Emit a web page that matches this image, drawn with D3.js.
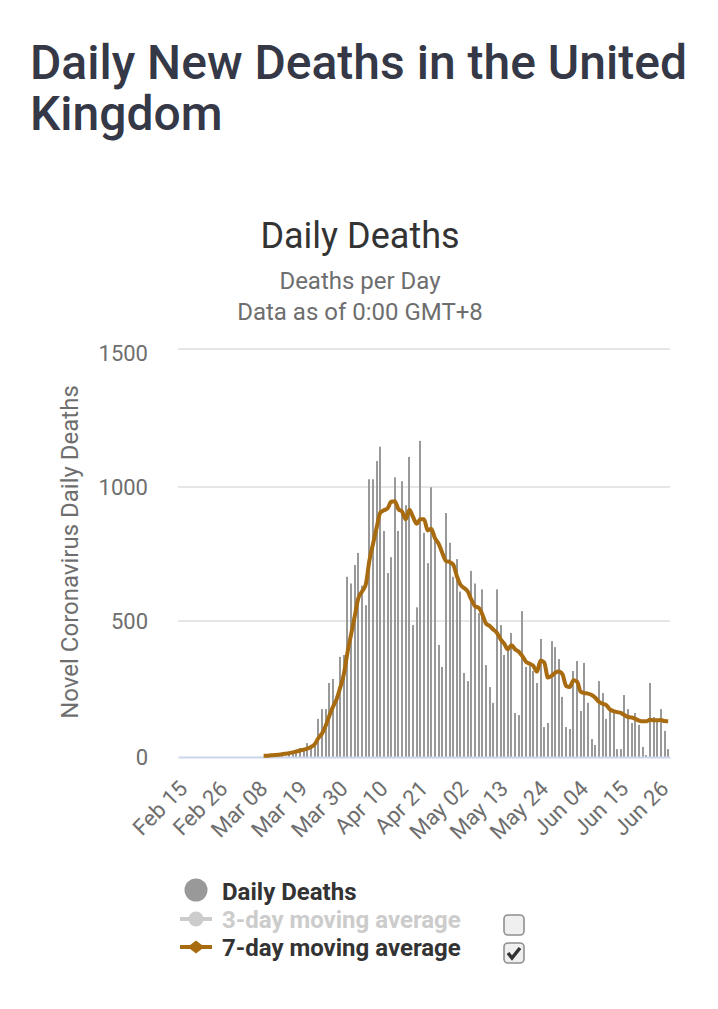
<!DOCTYPE html>
<html><head><meta charset="utf-8">
<script src="https://cdn.jsdelivr.net/npm/d3@7/dist/d3.min.js"></script>
<style>
html,body{margin:0;padding:0;background:#fff;}
svg{display:block;}
text{font-family:Roboto,sans-serif;}
</style></head><body>
<svg id="c" width="718" height="1009"></svg>
<script>
const firstDay = "2020-02-15";
const dayCount = 135;
const tickEvery = 11;
const yTicks = [0, 500, 1000, 1500];
const titleLines = ["Daily New Deaths in the United", "Kingdom"];
const chartTitle = "Daily Deaths";
const subtitleLines = ["Deaths per Day", "Data as of 0:00 GMT+8"];
const yLabel = "Novel Coronavirus Daily Deaths";
const legendNames = ["Daily Deaths", "3-day moving average", "7-day moving average"];
const dailyDeaths = [
 0,0,0,0,0,0,0,0,0,0,0,0,0,0,0,0,0,0,0,0,0,0,0,
 1,2,3,2,5,11,1,14,20,16,33,33,51,34,40,
 140,176,176,272,287,214,368,375,665,640,709,754,632,559,1028,1028,1094,1146,836,679,738,1035,836,1021,932,1109,485,551,1167,829,716,999,811,412,331,903,792,665,731,610,309,279,687,640,529,618,338,257,
 199,618,485,375,390,456,162,154,537,331,338,316,272,434,110,125,426,404,360,221,110,103,316,353,169,346,199,66,44,279,235,140,169,162,29,29,228,176,125,162,118,37,7,272,147,132,176,96,29];
const avg7 = [
 null,null,null,null,null,null,null,null,null,null,null,null,null,null,null,null,null,null,null,null,null,null,null,
 5,5,6,7,8,10,12,14,17,20,24,27,31,37,47,
 69,86,114,151,184,212,255,304,384,451,518,586,610,635,724,787,848,904,913,920,945,947,917,908,880,915,888,863,880,880,838,844,809,789,755,724,720,711,668,635,623,610,580,555,549,525,491,482,
 469,457,433,417,396,411,396,387,371,350,343,335,314,355,347,292,298,310,314,304,261,257,282,277,240,235,233,228,218,203,196,191,175,169,165,162,154,147,145,140,134,131,131,137,135,135,136,132,131];

const parse = d3.timeParse("%Y-%m-%d");
const start = parse(firstDay);
const days = d3.range(dayCount).map(i => d3.timeDay.offset(start, i));
const fmt = d3.timeFormat("%b %d");
const svg = d3.select("#c");

const plot = {l:178, r:670, t:349, b:757};
const x = d3.scaleBand().domain(d3.range(dayCount)).range([plot.l, plot.r]);
const y = d3.scaleLinear().domain(yTicks).range([757, 621, 487, 349]);

// page title
svg.append("g").selectAll("text").data(titleLines).join("text")
  .attr("x", 30).attr("y", (d,i)=>79+i*51)
  .attr("font-size", 48).attr("font-weight", 500).attr("fill", "#353846")
  .text(d=>d);

// chart titles
svg.append("text").attr("x",360).attr("y",248).attr("text-anchor","middle")
  .attr("font-size",36).attr("fill","#333").text(chartTitle);
svg.append("g").selectAll("text").data(subtitleLines).join("text")
  .attr("x",360).attr("y",(d,i)=>289+i*31).attr("text-anchor","middle")
  .attr("font-size",24).attr("fill","#6e6e6e").text(d=>d);

// grid
svg.append("g").selectAll("line").data(yTicks.filter(d=>d>0)).join("line")
  .attr("x1",plot.l).attr("x2",plot.r).attr("y1",d=>y(d)).attr("y2",d=>y(d))
  .attr("stroke","#e6e6e6").attr("stroke-width",2);

// y axis
const yAxis = svg.append("g").attr("transform",`translate(${plot.l},0)`)
  .call(d3.axisLeft(y).tickValues(yTicks).tickFormat(d3.format("d")).tickSize(0).tickPadding(30));
yAxis.select(".domain").remove();
yAxis.selectAll("text").attr("font-size",22).attr("fill","#6e6e6e")
  .attr("font-family","Roboto,sans-serif").attr("dy",d=>d===1500?"0.5em":"0.36em");

svg.append("text").attr("transform","translate(78,552) rotate(-90)").attr("text-anchor","middle")
  .attr("font-size",24).attr("fill","#6e6e6e").text(yLabel);

// bars
svg.append("g").selectAll("rect").data(dailyDeaths).join("rect")
  .attr("x",(d,i)=>Math.round(x(i)+x.bandwidth()/2-1)).attr("width",2)
  .attr("y",d=>y(d)).attr("height",d=>plot.b-y(d)).attr("fill","#999");

// x axis
const xAxis = svg.append("g").attr("transform",`translate(0,${plot.b})`)
  .call(d3.axisBottom(x).tickValues(d3.range(0,dayCount,tickEvery)).tickFormat(i=>fmt(days[i])).tickSize(0).tickPadding(0));
xAxis.select(".domain").attr("stroke","#ccd6eb").attr("stroke-width",2);
xAxis.selectAll("text").attr("font-size",22).attr("fill","#6e6e6e")
  .attr("font-family","Roboto,sans-serif")
  .attr("text-anchor","end")
  .attr("dy",0).attr("y",0)
  .attr("transform","translate(9,33) rotate(-45)");

// 7-day line
const line = d3.line().defined(d=>d!==null)
  .x((d,i)=>x(i)+x.bandwidth()/2).y(d=>y(d)).curve(d3.curveMonotoneX);
svg.append("path").datum(avg7).attr("d",line).attr("fill","none")
  .attr("stroke","#a96b10").attr("stroke-width",4).attr("stroke-linejoin","round");

// legend
const lg = svg.append("g");
const rows = [892,920,948];
lg.append("circle").attr("cx",196).attr("cy",890).attr("r",11.5).attr("fill","#999");
const lineColors = [null,"#ccc","#a96b10"];
[1,2].forEach(k=>{
  lg.append("line").attr("x1",180).attr("x2",212).attr("y1",rows[k]-1).attr("y2",rows[k]-1)
    .attr("stroke",lineColors[k]).attr("stroke-width",4);
});
lg.append("circle").attr("cx",196).attr("cy",rows[1]-1).attr("r",7.5).attr("fill","#ccc");
lg.append("path").attr("d",d3.symbol(d3.symbolSquare,100)())
  .attr("transform",`translate(196,${rows[2]-1}) scale(1.2,0.92) rotate(45)`).attr("fill","#a96b10");
lg.selectAll("text").data(legendNames).join("text")
  .attr("x",222).attr("y",(d,i)=>rows[i]+8)
  .attr("font-size",24).attr("font-weight",700)
  .attr("fill",(d,i)=>i===1?"#ccc":"#333").text(d=>d);

// checkboxes
[925,953].forEach((cy,i)=>{
  lg.append("rect").attr("x",504).attr("y",cy-10).attr("width",20).attr("height",20).attr("rx",4)
    .attr("fill","#efefef").attr("stroke","#8f8f8f").attr("stroke-width",1.6);
  if(i===1) lg.append("path").attr("d",`M508,${cy} l4,5 l8,-10`).attr("fill","none")
    .attr("stroke","#333").attr("stroke-width",3.5);
});
</script>
</body></html>
